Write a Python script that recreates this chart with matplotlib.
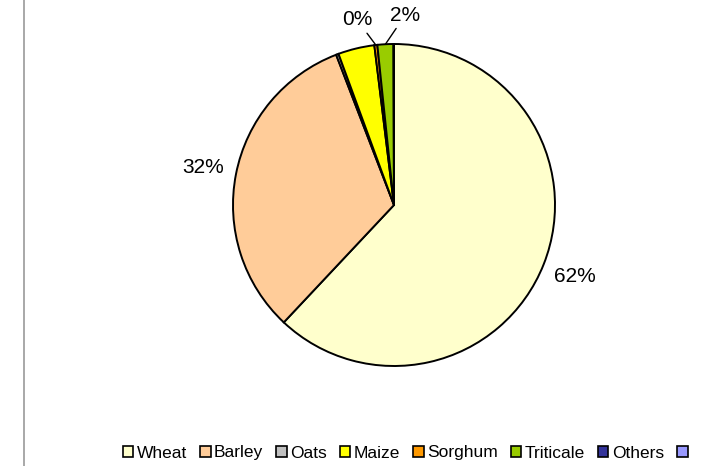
import numpy as np
import matplotlib.pyplot as plt
from matplotlib.lines import Line2D
from matplotlib.patches import Patch

plt.rcParams['font.family'] = ['Liberation Sans', 'DejaVu Sans']

categories = ['Wheat', 'Barley', 'Oats', 'Maize', 'Sorghum', 'Triticale', 'Others', '']
shares = [62.0, 32.15, 0.25, 3.65, 0.3, 1.6, 0.05, 0.0]
colors = ['#FFFFCC', '#FFCC99', '#C0C0C0', '#FFFF00', '#FF9900', '#99CC00', '#333399', '#9999FF']
# slices that get a percentage label in the original chart
labelled = ['Wheat', 'Barley', 'Sorghum', 'Triticale']
with_leader = {'Sorghum': (-0.23, 1.15), 'Triticale': (0.07, 1.18)}

fig = plt.figure(figsize=(7.19, 4.66), dpi=100)
W, H = 719, 466
cx, cy, r = 394, 205, 161
ax = fig.add_axes([(cx - r) / W, (H - cy - r) / H, 2 * r / W, 2 * r / H])

wedges, _ = ax.pie(shares, colors=colors, startangle=90, counterclock=False,
                   wedgeprops=dict(edgecolor='black', linewidth=1.4))
ax.set_xlim(-1, 1)
ax.set_ylim(-1, 1)
ax.set_aspect('equal')
for w in wedges:
    w.set_clip_on(False)

total = sum(shares)
for w, name, v in zip(wedges, categories, shares):
    if name not in labelled:
        continue
    txt = '%.0f%%' % (100.0 * v / total)
    mid = np.deg2rad((w.theta1 + w.theta2) / 2)
    if name in with_leader:
        tx, ty = with_leader[name]
        ax.annotate(txt, xy=(np.cos(mid), np.sin(mid)), xytext=(tx, ty),
                    ha='center', va='center', fontsize=15, annotation_clip=False,
                    arrowprops=dict(arrowstyle='-', color='black', lw=1.0,
                                    shrinkA=1, shrinkB=0))
    else:
        ax.text(1.21 * np.cos(mid), 1.2 * np.sin(mid), txt,
                ha='center', va='center', fontsize=15)

handles = [Patch(facecolor=c, edgecolor='black', linewidth=1.2) for c in colors]
fig.legend(handles, categories, loc='center', bbox_to_anchor=(407 / W, 1 - 453 / H),
           ncol=8, frameon=False, fontsize=12.5, handlelength=0.6, handleheight=0.6,
           handletextpad=0.2, columnspacing=0.75, borderaxespad=0)

fig.add_artist(Line2D([23.5 / W, 23.5 / W], [0, 1], color='#999999', lw=1.2,
                      transform=fig.transFigure))

fig.savefig('out.png', dpi=100)
